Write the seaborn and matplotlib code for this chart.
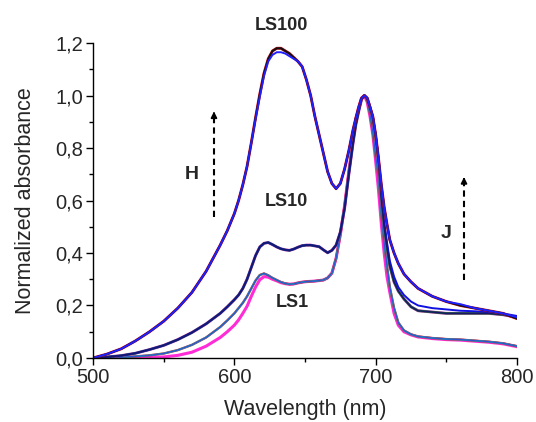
import matplotlib
matplotlib.use("Agg")
import matplotlib.pyplot as plt
from matplotlib.ticker import MultipleLocator, FuncFormatter
import seaborn as sns
import pandas as pd

wavelength = [500, 510, 520, 530, 540, 550, 560, 570, 580, 590,
              595, 600, 603, 606, 609, 612, 615, 618, 621, 624, 627, 630, 633, 636, 639, 642,
              645, 648, 651, 654, 657, 660, 663, 666, 669, 672, 675, 678, 681, 684,
              686, 688, 690, 692, 694, 696, 698, 700, 702, 704, 706, 708, 710,
              713, 716, 720, 725, 730, 740, 750, 760, 770, 780, 790, 800]

ls100_a = [0.0, 0.015, 0.035, 0.065, 0.10, 0.14, 0.19, 0.25, 0.33, 0.43,
           0.485, 0.55, 0.60, 0.66, 0.73, 0.82, 0.915, 1.005, 1.085, 1.14, 1.17, 1.18, 1.18, 1.17, 1.16, 1.145,
           1.13, 1.11, 1.06, 1.0, 0.92, 0.85, 0.78, 0.71, 0.665, 0.645, 0.665, 0.72, 0.79, 0.87,
           0.915, 0.955, 0.99, 1.0, 0.99, 0.955, 0.92, 0.85, 0.76, 0.66, 0.575, 0.51, 0.45,
           0.40, 0.36, 0.32, 0.29, 0.265, 0.235, 0.215, 0.20, 0.19, 0.18, 0.17, 0.15]
ls100_b = [0.0, 0.015, 0.035, 0.065, 0.10, 0.14, 0.19, 0.25, 0.33, 0.43,
           0.485, 0.55, 0.60, 0.66, 0.73, 0.82, 0.91, 0.995, 1.075, 1.13, 1.155, 1.165, 1.165, 1.16, 1.15, 1.14,
           1.13, 1.11, 1.06, 1.0, 0.92, 0.85, 0.78, 0.71, 0.665, 0.645, 0.665, 0.72, 0.79, 0.87,
           0.915, 0.955, 0.99, 1.0, 0.99, 0.955, 0.92, 0.85, 0.76, 0.66, 0.575, 0.51, 0.45,
           0.40, 0.36, 0.32, 0.29, 0.265, 0.235, 0.215, 0.205, 0.19, 0.18, 0.17, 0.155]

ls10_a = [0.0, 0.004, 0.009, 0.018, 0.032, 0.048, 0.07, 0.097, 0.13, 0.17,
          0.195, 0.222, 0.24, 0.265, 0.30, 0.345, 0.39, 0.423, 0.437, 0.44, 0.432, 0.423, 0.416, 0.412, 0.41, 0.415,
          0.422, 0.428, 0.43, 0.43, 0.427, 0.424, 0.412, 0.401, 0.41, 0.43, 0.48, 0.57, 0.70, 0.82,
          0.89, 0.94, 0.985, 1.0, 0.99, 0.955, 0.91, 0.84, 0.75, 0.61, 0.50, 0.42, 0.35,
          0.29, 0.255, 0.225, 0.195, 0.18, 0.175, 0.17, 0.17, 0.17, 0.17, 0.165, 0.155]
ls10_b = [0.0, 0.004, 0.009, 0.018, 0.032, 0.048, 0.07, 0.097, 0.13, 0.17,
          0.195, 0.222, 0.24, 0.265, 0.30, 0.345, 0.39, 0.423, 0.437, 0.44, 0.432, 0.423, 0.416, 0.412, 0.41, 0.415,
          0.422, 0.428, 0.43, 0.43, 0.427, 0.424, 0.412, 0.401, 0.41, 0.43, 0.48, 0.57, 0.70, 0.82,
          0.89, 0.94, 0.985, 1.0, 0.99, 0.96, 0.92, 0.85, 0.76, 0.63, 0.52, 0.44, 0.37,
          0.31, 0.27, 0.24, 0.215, 0.20, 0.19, 0.185, 0.18, 0.178, 0.175, 0.17, 0.16]

ls1_a = [0.0, 0.001, 0.003, 0.006, 0.01, 0.017, 0.03, 0.05, 0.078, 0.118,
         0.143, 0.17, 0.19, 0.21, 0.235, 0.265, 0.295, 0.316, 0.322, 0.315, 0.305, 0.297, 0.289, 0.284, 0.281, 0.282,
         0.286, 0.289, 0.291, 0.292, 0.293, 0.295, 0.297, 0.305, 0.323, 0.38, 0.47, 0.58, 0.71, 0.83,
         0.91, 0.955, 0.99, 1.0, 0.98, 0.93, 0.86, 0.77, 0.69, 0.55, 0.44, 0.35, 0.27,
         0.19, 0.135, 0.105, 0.09, 0.082, 0.076, 0.072, 0.07, 0.066, 0.062, 0.056, 0.045]
ls1_b = [0.0, 0.0, 0.0, 0.001, 0.002, 0.004, 0.01, 0.022, 0.045, 0.078,
         0.10, 0.125, 0.145, 0.17, 0.197, 0.235, 0.27, 0.298, 0.31, 0.308, 0.30, 0.294, 0.287, 0.283, 0.281, 0.282,
         0.286, 0.289, 0.291, 0.292, 0.293, 0.295, 0.297, 0.305, 0.323, 0.38, 0.47, 0.58, 0.71, 0.83,
         0.91, 0.955, 0.99, 1.0, 0.975, 0.92, 0.85, 0.75, 0.64, 0.51, 0.40, 0.31, 0.25,
         0.17, 0.125, 0.10, 0.088, 0.08, 0.074, 0.07, 0.068, 0.064, 0.06, 0.054, 0.043]

labels = ["LS100", "LS10", "LS1"]
x_ticks = [500, 600, 700, 800]

sns.set_style("ticks")
plt.rcParams["font.family"] = ["Liberation Sans", "DejaVu Sans"]

fig = plt.figure(figsize=(5.36, 4.22), dpi=100)
ax = fig.add_axes([0.1735, 0.1517, 0.7911, 0.7463])

series = [
    (ls1_b, "#ff2bd6", 2.2),
    (ls1_a, "#e0202a", 1.7),
    (ls1_a, "#20a0a8", 1.4),
    (ls1_a, "#3050d0", 0.8),
    (ls10_a, "#d030c0", 2.1),
    (ls10_a, "#1a7a2a", 1.7),
    (ls10_b, "#1010e0", 1.4),
    (ls10_a, "#181868", 1.1),
    (ls100_a, "#e01020", 2.1),
    (ls100_a, "#111111", 1.5),
    (ls100_b, "#2020ff", 1.4),
]
for vals, col, lw in series:
    df = pd.DataFrame({"wl": wavelength, "abs": vals})
    sns.lineplot(data=df, x="wl", y="abs", ax=ax, color=col, lw=lw, sort=False)

ax.set_xlim(500, 800)
ax.set_ylim(0, 1.2)
ax.set_xticks(x_ticks)
ax.xaxis.set_minor_locator(MultipleLocator(50))
ax.yaxis.set_major_locator(MultipleLocator(0.2))
ax.yaxis.set_minor_locator(MultipleLocator(0.1))
ax.yaxis.set_major_formatter(FuncFormatter(lambda v, p: f"{v:.1f}".replace(".", ",")))
ax.tick_params(which="major", direction="out", length=5, width=1, labelsize=14.5, color="black", pad=2)
ax.tick_params(which="minor", direction="out", length=3, width=1, color="black")
for s in ["top", "right"]:
    ax.spines[s].set_visible(False)
for s in ["left", "bottom"]:
    ax.spines[s].set_color("black")
    ax.spines[s].set_linewidth(1)
ax.set_xlabel("Wavelength (nm)", fontsize=15.5, labelpad=9)
ax.set_ylabel("Normalized absorbance", fontsize=15.5, labelpad=14)

ax.text(633, 1.265, labels[0], ha="center", va="center", fontsize=13, fontweight="bold", clip_on=False)
ax.text(637, 0.595, labels[1], ha="center", va="center", fontsize=13, fontweight="bold")
ax.text(641, 0.21, labels[2], ha="center", va="center", fontsize=13, fontweight="bold")
ax.text(570, 0.70, "H", ha="center", va="center", fontsize=14, fontweight="bold")
ax.text(750, 0.475, "J", ha="center", va="center", fontsize=14, fontweight="bold")

for xa, y0, y1 in [(585.6, 0.537, 0.95), (762.5, 0.297, 0.70)]:
    ax.plot([xa, xa], [y0, y1 - 0.03], color="black", lw=1.5, ls=(0, (3, 2)))
    ax.annotate("", xy=(xa, y1), xytext=(xa, y1 - 0.035),
                arrowprops=dict(arrowstyle="-|>", color="black", lw=1.2, mutation_scale=9))

fig.savefig("out.png", dpi=100)
